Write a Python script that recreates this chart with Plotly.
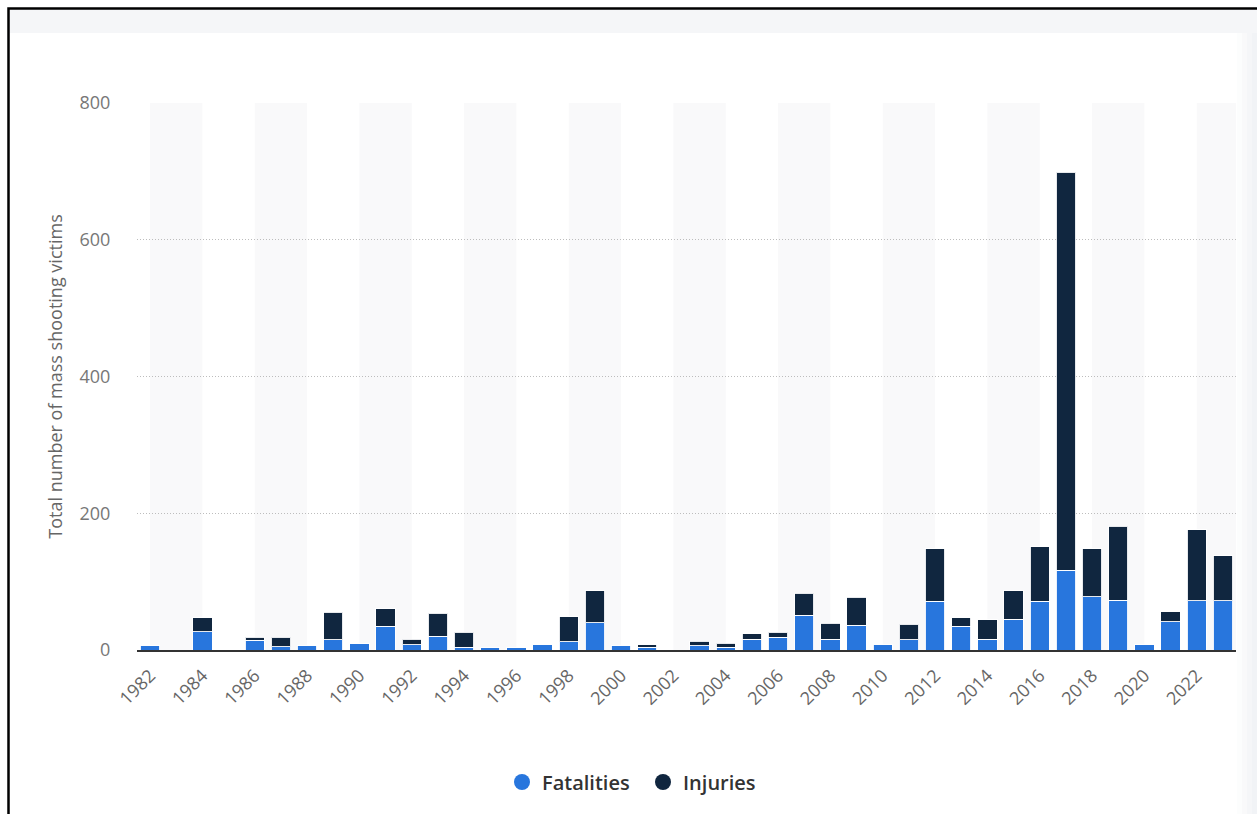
import plotly.graph_objects as go

# Mass shooting victims in the U.S. by year
years = list(range(1982, 2024))
fatalities = [6, 0, 27, 0, 14, 5, 6, 15, 9, 35, 8, 20, 4, 3, 3, 8, 12, 40, 6, 4, 0,
              6, 4, 16, 19, 51, 16, 36, 8, 15, 71, 35, 16, 45, 71, 117, 78, 73, 8, 41, 72, 72]
injuries = [0, 0, 20, 0, 5, 14, 0, 40, 0, 25, 8, 34, 22, 0, 0, 0, 37, 47, 0, 4, 0,
            7, 6, 8, 7, 32, 23, 41, 0, 23, 77, 12, 28, 42, 80, 582, 70, 108, 0, 15, 104, 66]
y_ticks = [0, 200, 400, 600, 800]
x_ticks = list(range(1982, 2023, 2))

BLUE = "#2876dd"
NAVY = "#10263f"
FONT = "Open Sans"

# canvas geometry (pixels) used to place decorations in paper coordinates
W, H = 1257, 814
L, R, T, B = 137, 1236, 103, 650


def px(x):
    return (x - L) / (R - L)


def py(y):
    return (B - y) / (B - T)


fig = go.Figure()
for name, vals, col in [("Fatalities", fatalities, BLUE), ("Injuries", injuries, NAVY)]:
    fig.add_trace(go.Bar(
        x=years, y=vals, name=name, width=0.74,
        marker=dict(color=col, line=dict(color="rgba(255,255,255,0.9)", width=1)),
        showlegend=False,
    ))
    # round legend swatch
    fig.add_trace(go.Scatter(
        x=[None], y=[None], mode="markers", name=name,
        marker=dict(color=col, size=20, symbol="circle"),
    ))

shapes = []
# alternating column bands
for start in range(1982, 2024, 4):
    shapes.append(dict(type="rect", xref="x", yref="paper", x0=start, x1=start + 2,
                       y0=0, y1=1, fillcolor="#f9f9fa", line_width=0, layer="below"))
# header strip and frame
shapes.append(dict(type="rect", xref="paper", yref="paper", x0=px(9), x1=px(W + 20),
                   y0=py(33), y1=py(9), fillcolor="#f5f6f8", line_width=0, layer="below"))
for i, a in enumerate([0.15, 0.25, 0.35, 0.45]):
    shapes.append(dict(type="rect", xref="paper", yref="paper", x0=px(1237 + i * 5),
                       x1=px(W + 20), y0=py(H + 20), y1=py(33),
                       fillcolor=f"rgba(238,240,244,{a})", line_width=0, layer="below"))
shapes.append(dict(type="rect", xref="paper", yref="paper", x0=px(8.5), x1=px(W + 30),
                   y0=py(H + 30), y1=py(8.5), line=dict(color="#000", width=2.5),
                   fillcolor="rgba(0,0,0,0)"))

fig.update_layout(
    width=W, height=H,
    margin=dict(l=L, r=W - R, t=T, b=H - B),
    paper_bgcolor="white", plot_bgcolor="white",
    barmode="stack", bargap=0.26,
    font=dict(family=FONT, color="#666"),
    shapes=shapes,
    showlegend=True,
    legend=dict(orientation="h", traceorder="normal", x=px(502), xanchor="left",
                y=py(782), yanchor="middle", entrywidth=96, entrywidthmode="pixels",
                font=dict(size=20, color="#333", weight=600), itemsizing="trace",
                bgcolor="rgba(0,0,0,0)"),
    xaxis=dict(
        range=[1981.5, 2023.5], tickmode="array", tickvals=x_ticks,
        ticktext=[str(v) for v in x_ticks], tickangle=-45,
        tickfont=dict(size=18, color="#666"), ticks="outside", ticklen=6,
        tickcolor="rgba(0,0,0,0)", showgrid=False, zeroline=False,
        showline=True, linecolor="#333", linewidth=2,
    ),
    yaxis=dict(
        range=[0, 800], tickmode="array", tickvals=y_ticks,
        tickfont=dict(size=18, color="#777"), ticks="outside", ticklen=22,
        tickcolor="rgba(0,0,0,0)", showgrid=True, gridcolor="#bdbdbd",
        griddash="1px,2px", gridwidth=1, zeroline=False, showline=False,
        title=dict(text="Total number of mass shooting victims",
                   font=dict(size=18, color="#666"), standoff=12),
    ),
)

fig.write_html("out.html")
